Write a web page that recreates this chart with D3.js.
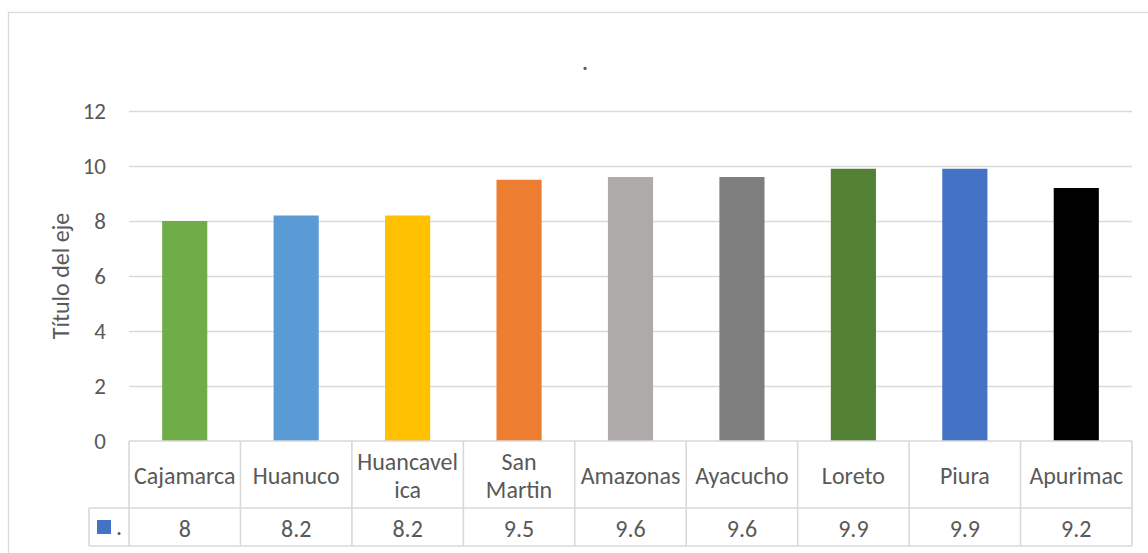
<!DOCTYPE html>
<html>
<head>
<meta charset="utf-8">
<script src="https://cdn.jsdelivr.net/npm/d3@7"></script>
<style>
  html, body { margin: 0; padding: 0; background: #fff; }
  svg { display: block; }
  text { font-family: Carlito, Calibri, "Open Sans", "Liberation Sans", sans-serif; fill: #595959; }
</style>
</head>
<body>
<svg id="chart" width="1148" height="553"></svg>
<script>
// ---- data ----
const categories = ["Cajamarca", "Huanuco", "Huancavelica", "San Martin", "Amazonas", "Ayacucho", "Loreto", "Piura", "Apurimac"];
const categoryLines = [["Cajamarca"], ["Huanuco"], ["Huancavel", "ica"], ["San", "Martin"], ["Amazonas"], ["Ayacucho"], ["Loreto"], ["Piura"], ["Apurimac"]];
const values = [8, 8.2, 8.2, 9.5, 9.6, 9.6, 9.9, 9.9, 9.2];
const valueLabels = ["8", "8.2", "8.2", "9.5", "9.6", "9.6", "9.9", "9.9", "9.2"];
const barColors = ["#70AD47", "#5B9BD5", "#FFC000", "#ED7D31", "#AEAAAA", "#7F7F7F", "#548235", "#4472C4", "#000000"];
const yTicks = [0, 2, 4, 6, 8, 10, 12];
const seriesName = ".";
const chartTitle = ".";
const yAxisTitle = "Título del eje";

// ---- layout ----
const svg = d3.select("#chart");
const pLeft = 129, pRight = 1132, pTop = 111, pBottom = 441;
const row1Bottom = 508, row2Bottom = 546, legendLeft = 89;
const grid = "#D9D9D9";
const FONT = 'Carlito, Calibri, "Open Sans", "Liberation Sans", sans-serif';
const FS = 24;

// chart frame
svg.append("rect").attr("x", 8.5).attr("y", 12.5).attr("width", 1160).attr("height", 600)
  .attr("fill", "#fff").attr("stroke", grid).attr("stroke-width", 1.3);

const x = d3.scaleBand().domain(categories).range([pLeft, pRight]).paddingInner(0).paddingOuter(0);
const y = d3.scaleLinear().domain([0, 12]).range([pBottom, pTop]);

// gridlines + tick labels via axis
const yAxis = d3.axisLeft(y).tickValues(yTicks).tickSize(-(pRight - pLeft)).tickPadding(23).tickFormat(d3.format("d"));
const gAxis = svg.append("g").attr("transform", `translate(${pLeft},0)`).call(yAxis);
gAxis.select(".domain").remove();
gAxis.selectAll(".tick line").attr("stroke", grid).attr("stroke-width", 1.3);
gAxis.selectAll(".tick text").attr("font-size", 23).attr("fill", "#595959").style("font-family", FONT);
gAxis.selectAll(".tick").filter(d => d === 0).select("line").remove();

// bars
const bw = x.bandwidth() * 0.405;
svg.append("g").selectAll("rect").data(values).join("rect")
  .attr("x", (d, i) => x(categories[i]) + (x.bandwidth() - bw) / 2)
  .attr("y", d => y(d))
  .attr("width", bw)
  .attr("height", d => y(0) - y(d))
  .attr("fill", (d, i) => barColors[i]);

// data table
const tbl = svg.append("g").attr("stroke", grid).attr("stroke-width", 1.6).attr("fill", "none");
tbl.append("line").attr("x1", pLeft).attr("x2", pRight).attr("y1", pBottom).attr("y2", pBottom);
tbl.append("line").attr("x1", legendLeft).attr("x2", pRight).attr("y1", row1Bottom).attr("y2", row1Bottom);
tbl.append("line").attr("x1", legendLeft).attr("x2", pRight).attr("y1", row2Bottom).attr("y2", row2Bottom);
tbl.append("line").attr("x1", legendLeft).attr("x2", legendLeft).attr("y1", row1Bottom).attr("y2", row2Bottom);
const edges = categories.map(c => x(c)).concat([pRight]);
tbl.selectAll("line.v").data(edges).join("line").attr("class", "v")
  .attr("x1", d => d).attr("x2", d => d).attr("y1", pBottom).attr("y2", row2Bottom);

// category labels
const catG = svg.append("g");
categoryLines.forEach((lines, i) => {
  const cx = x(categories[i]) + x.bandwidth() / 2;
  const cy = (pBottom + row1Bottom) / 2 + 1;
  const lh = 28;
  lines.forEach((ln, j) => {
    catG.append("text").attr("x", cx).attr("y", cy + (j - (lines.length - 1) / 2) * lh)
      .attr("text-anchor", "middle").attr("dominant-baseline", "central")
      .attr("font-size", FS).text(ln);
  });
});

// value row
svg.append("g").selectAll("text").data(valueLabels).join("text")
  .attr("x", (d, i) => x(categories[i]) + x.bandwidth() / 2)
  .attr("y", (row1Bottom + row2Bottom) / 2 + 1)
  .attr("text-anchor", "middle").attr("dominant-baseline", "central")
  .attr("font-size", FS).text(d => d);

// legend key in table
svg.append("rect").attr("x", 97).attr("y", 520).attr("width", 14).attr("height", 14).attr("fill", "#4472C4");
svg.append("text").attr("x", 116).attr("y", 535)
  .attr("font-size", FS).text(seriesName);

// title
svg.append("text").attr("x", 585).attr("y", 70).attr("text-anchor", "middle")
  .attr("font-size", 26).text(chartTitle);

// y axis title
svg.append("text").attr("transform", `translate(60,${(pTop + pBottom) / 2}) rotate(-90)`)
  .attr("text-anchor", "middle").attr("dominant-baseline", "central")
  .attr("font-size", FS).text(yAxisTitle);
</script>
</body>
</html>
